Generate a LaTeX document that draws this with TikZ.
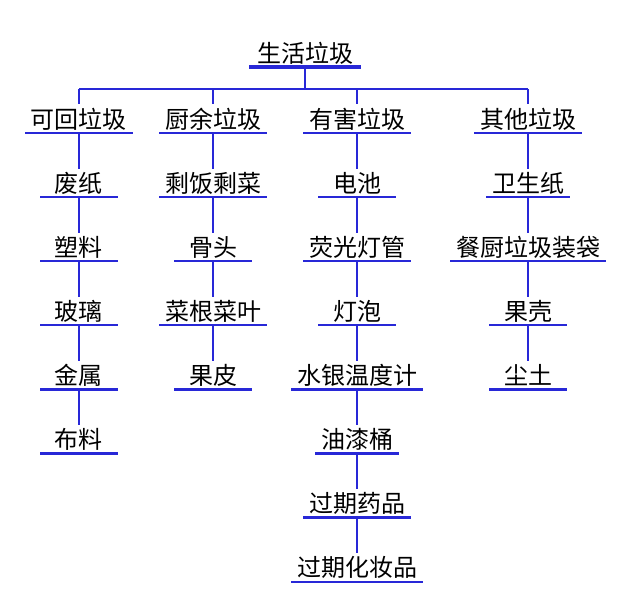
\documentclass[tikz,border=0pt]{standalone}
\usepackage{fontspec}
\newfontfamily\cjk{Noto Sans CJK SC}
\usetikzlibrary{positioning}
\definecolor{lineblue}{RGB}{40,40,215}

\begin{document}
\begin{tikzpicture}[
    x=0.75pt, y=-0.75pt,
    item/.style={font=\cjk\fontsize{18}{18}\selectfont, anchor=south, inner xsep=4pt, inner ysep=1.5pt,
        minimum width=58pt, text depth=2pt, text height=16pt,
        append after command={(\tikzlastnode.south west) edge[draw=lineblue, line width=1.7pt] (\tikzlastnode.south east)}},
    title/.style={item, append after command={(\tikzlastnode.south west) edge[draw=lineblue, line width=2.4pt] (\tikzlastnode.south east)}},
    link/.style={draw=lineblue, line width=0.8pt}
]
\useasboundingbox (0,0) rectangle (640,607);

% Root
\node[title, minimum width=83pt] (root) at (305,67) {生活垃圾};

% Categories
\node[item] (recycle) at (79,133) {可回垃圾};
\node[item] (kitchen) at (213,133) {厨余垃圾};
\node[item] (harmful) at (357,133) {有害垃圾};
\node[item] (other) at (528,133) {其他垃圾};

% Bus
\coordinate (bus) at (305,89);
\draw[link] (root.south) -- (bus);
\draw[link] (recycle.north |- bus) -- (other.north |- bus);
\foreach \c in {recycle,kitchen,harmful,other}
    \draw[link] (\c.north |- bus) -- (\c.north);

% Column items
\foreach \c/\x/\list in {
    recycle/79/{废纸,塑料,玻璃,金属,布料},
    kitchen/213/{剩饭剩菜,骨头,菜根菜叶,果皮},
    harmful/357/{电池,荧光灯管,灯泡,水银温度计,油漆桶,过期药品,过期化妆品},
    other/528/{卫生纸,餐厨垃圾装袋,果壳,尘土}} {
    \foreach \t [count=\i, remember=\i as \j (initially 0)] in \list {
        \pgfmathsetmacro{\yy}{133+64.1*\i}
        \node[item] (\c-\i) at (\x,\yy) {\t};
        \ifnum\j=0
            \draw[link] (\c.south) -- (\c-\i.north);
        \else
            \draw[link] (\c-\j.south) -- (\c-\i.north);
        \fi
    }
}
\end{tikzpicture}
\end{document}
